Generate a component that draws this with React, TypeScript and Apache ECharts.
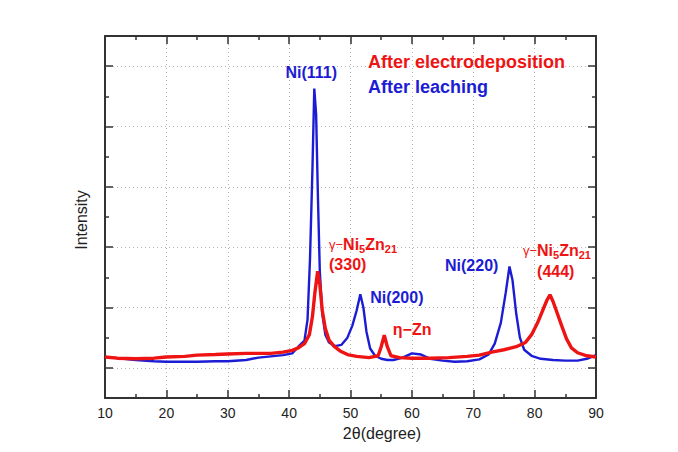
import React, { useEffect, useRef } from "react";
import * as echarts from "echarts";

// 2θ (degree) positions and intensities (arbitrary units)
const leachX = [10, 12, 15, 18, 20, 23, 25, 28, 30, 33, 35, 37, 39, 40.5, 41.5, 42.5, 43.0, 43.4, 43.8, 44.1, 44.4, 44.7, 45.0, 45.4, 45.9, 46.5, 47.5, 48.5, 49.5, 50.3, 51.0, 51.6, 52.1, 52.6, 53.2, 54.0, 55, 56, 57, 58.5, 60, 61.5, 63, 65, 67, 69, 71, 72.5, 73.5, 74.5, 75.3, 75.9, 76.4, 77.0, 77.6, 78.3, 79.5, 81, 83, 85, 87, 88.5, 90];
const leachY = [0.18, 0.16, 0.13, 0.11, 0.10, 0.10, 0.10, 0.11, 0.11, 0.13, 0.17, 0.19, 0.21, 0.24, 0.35, 0.45, 0.8, 1.8, 3.3, 4.63, 4.2, 2.8, 1.6, 0.9, 0.55, 0.42, 0.36, 0.38, 0.5, 0.7, 0.95, 1.22, 1.0, 0.6, 0.32, 0.2, 0.15, 0.13, 0.13, 0.17, 0.24, 0.22, 0.15, 0.12, 0.10, 0.11, 0.14, 0.22, 0.4, 0.75, 1.25, 1.68, 1.45, 0.9, 0.5, 0.3, 0.2, 0.15, 0.13, 0.12, 0.12, 0.15, 0.21];

const depoX = [10, 12, 15, 18, 20, 23, 25, 28, 30, 33, 35, 37, 39, 40.5, 41.5, 42.5, 43.3, 43.8, 44.2, 44.65, 45.0, 45.4, 45.9, 46.5, 47.3, 48.3, 49.5, 51, 53, 54.5, 55.0, 55.5, 56.0, 56.6, 58, 60, 63, 66, 69, 71, 73, 75, 77, 78.5, 79.5, 80.5, 81.3, 82.0, 82.5, 83.0, 83.7, 84.4, 85.2, 86, 87, 88.5, 90];
const depoY = [0.18, 0.16, 0.15, 0.16, 0.18, 0.19, 0.21, 0.22, 0.23, 0.24, 0.24, 0.24, 0.26, 0.29, 0.33, 0.4, 0.55, 0.85, 1.25, 1.6, 1.38, 0.95, 0.65, 0.46, 0.36, 0.28, 0.22, 0.19, 0.17, 0.2, 0.35, 0.54, 0.35, 0.2, 0.17, 0.16, 0.16, 0.17, 0.19, 0.21, 0.26, 0.3, 0.35, 0.42, 0.55, 0.75, 0.95, 1.12, 1.21, 1.1, 0.9, 0.7, 0.48, 0.33, 0.25, 0.2, 0.18];

const seriesNames = ["After leaching", "After electrodeposition"];
const xTitle = "2θ(degree)";
const yTitle = "Intensity";

// annotation texts and their anchors (data coordinates)
const annTexts = ["Ni(111)", "Ni(200)", "Ni(220)", "η−Zn", "(330)", "(444)"];
const annX = [43.6, 53.2, 65.4, 56.9, 46.5, 80.4];
const annY = [4.89, 1.16, 1.70, 0.63, 1.72, 1.60];
const annColor = ["b", "b", "b", "r", "r", "r"];
const gammaX = [46.5, 78.1];
const gammaY = [2.04, 1.94];

const BLUE = "#1c1cd4";
const RED = "#ee1414";
const FONT = "'Liberation Sans', Arial, sans-serif";

export default function App() {
  const ref = useRef<HTMLDivElement>(null);
  useEffect(() => {
    const chart = echarts.init(ref.current!, null, { renderer: "svg" });
    const pair = (xs: number[], ys: number[]) => xs.map((x, i) => [x, ys[i]]);
    const axisLine = { show: true, onZero: false, lineStyle: { color: "#333", width: 2 } };
    const gridLine = { show: true, lineStyle: { color: "#b4b4b4", type: [1, 3] as any, width: 1 } };
    const tick = { show: true, inside: true, length: 8, lineStyle: { color: "#333", width: 1.5 } };
    const minor = { show: true, splitNumber: 2, length: 4, lineStyle: { color: "#333", width: 1.5 } };
    const xCommon = {
      type: "value" as const,
      min: 10,
      max: 90,
      interval: 10,
      axisLine,
      axisTick: tick,
      minorTick: minor,
    };
    const yCommon = {
      type: "value" as const,
      min: -0.5,
      max: 5.5,
      splitNumber: 6,
      axisLine,
      axisTick: tick,
      minorTick: minor,
      axisLabel: { show: false },
    };
    chart.setOption({
      animation: false,
      backgroundColor: "#fff",
      grid: { left: 105, top: 36, right: 82, bottom: 54, containLabel: false },
      xAxis: [
        {
          ...xCommon,
          position: "bottom",
          splitLine: gridLine,
          axisLabel: { show: true, color: "#222", fontSize: 14, fontFamily: FONT, margin: 8 },
        },
        { ...xCommon, position: "top", splitLine: { show: false }, axisLabel: { show: false } },
      ],
      yAxis: [
        { ...yCommon, position: "left", splitLine: gridLine },
        { ...yCommon, position: "right", splitLine: { show: false } },
      ],
      series: [
        {
          name: seriesNames[0],
          type: "line",
          data: pair(leachX, leachY),
          showSymbol: false,
          symbol: "none",
          lineStyle: { color: BLUE, width: 2.4 },
          z: 2,
        },
        {
          name: seriesNames[1],
          type: "line",
          data: pair(depoX, depoY),
          showSymbol: false,
          symbol: "none",
          lineStyle: { color: RED, width: 3.4 },
          z: 3,
        },
      ],
    });

    const toPx = (x: number, y: number) => chart.convertToPixel({ gridIndex: 0 }, [x, y]) as number[];
    const graphics: any[] = [];
    annTexts.forEach((t, i) => {
      const [px, py] = toPx(annX[i], annY[i]);
      graphics.push({
        type: "text",
        x: px,
        y: py,
        z: 10,
        style: {
          text: t,
          fill: annColor[i] === "b" ? BLUE : RED,
          font: `bold 16px ${FONT}`,
          align: i === 0 ? "center" : "left",
          verticalAlign: "middle",
        },
      });
    });
    gammaX.forEach((gx, i) => {
      const [px, py] = toPx(gx, gammaY[i]);
      graphics.push({
        type: "text",
        x: px,
        y: py,
        z: 10,
        style: {
          text: "{g|γ−}{b|Ni}{s|5}{b|Zn}{s|21}",
          align: "left",
          verticalAlign: "middle",
          rich: {
            g: { fill: RED, fontSize: 13, fontFamily: FONT, lineHeight: 20 },
            b: { fill: RED, fontSize: 16, fontWeight: "bold", fontFamily: FONT, lineHeight: 20 },
            s: { fill: RED, fontSize: 11, fontWeight: "bold", fontFamily: FONT, lineHeight: 20, verticalAlign: "bottom", padding: [7, 0, 0, 0] },
          },
        },
      });
    });
    // legend-like labels
    const [lx, ly1] = toPx(52.85, 5.07);
    const [, ly2] = toPx(52.85, 4.65);
    graphics.push(
      { type: "text", x: lx, y: ly1, z: 10, style: { text: seriesNames[1], fill: RED, font: `bold 18px ${FONT}`, align: "left", verticalAlign: "middle" } },
      { type: "text", x: lx, y: ly2, z: 10, style: { text: seriesNames[0], fill: BLUE, font: `bold 18px ${FONT}`, align: "left", verticalAlign: "middle" } },
      { type: "text", x: 81, y: 220, rotation: Math.PI / 2, style: { text: yTitle, fill: "#222", font: `16px ${FONT}`, align: "center", verticalAlign: "middle" } },
      { type: "text", x: 382, y: 433, style: { text: xTitle, fill: "#222", font: `16px ${FONT}`, align: "center", verticalAlign: "middle" } }
    );
    chart.setOption({ graphic: graphics });
    return () => chart.dispose();
  }, []);
  return <div ref={ref} style={{ position: "absolute", left: 0, top: 0, width: 678, height: 452 }} />;
}
